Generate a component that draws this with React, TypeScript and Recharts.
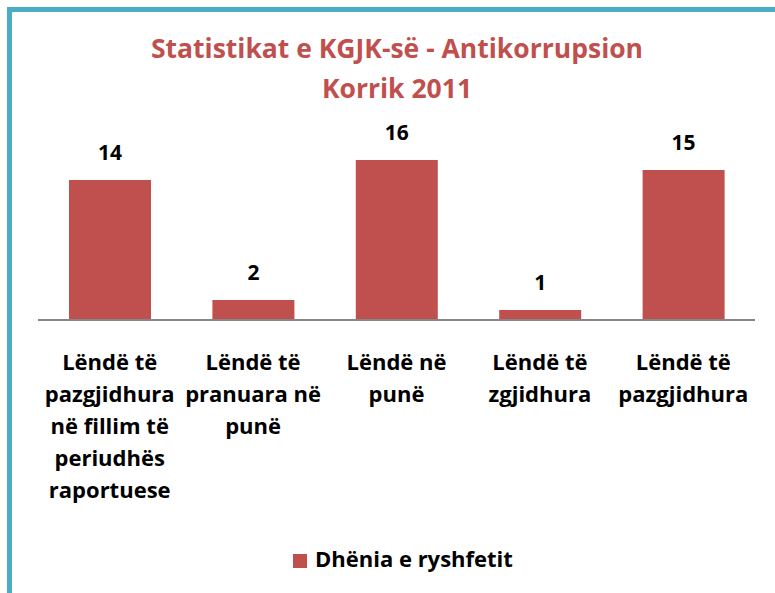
import { BarChart, Bar, XAxis, YAxis, LabelList } from "recharts";

const categories = [
  "Lëndë të\npazgjidhura\nnë fillim të\nperiudhës\nraportuese",
  "Lëndë të\npranuara në\npunë",
  "Lëndë në\npunë",
  "Lëndë të\nzgjidhura",
  "Lëndë të\npazgjidhura",
];
const values = [14, 2, 16, 1, 15];
const seriesName = "Dhënia e ryshfetit";
const titleLines = ["Statistikat e KGJK-së - Antikorrupsion", "Korrik 2011"];

const data = categories.map((c, i) => ({ name: c, value: values[i] }));

const FONT = "'Open Sans', Lato, sans-serif";
const RED = "#C0504D";

function CatTick(props: any) {
  const { x, y, payload } = props;
  const lines = String(payload.value).split("\n");
  return (
    <text x={x} y={y + 50} textAnchor="middle" fontFamily={FONT} fontWeight={700} fontSize={22} fill="#000">
      {lines.map((l, i) => (
        <tspan key={i} x={x} dy={i === 0 ? 0 : 32}>
          {l}
        </tspan>
      ))}
    </text>
  );
}

export default function App() {
  return (
    <div style={{ position: "fixed", left: 0, top: 0, width: 775, height: 593, overflow: "hidden", background: "#fff" }}>
      <div style={{ position: "absolute", left: 0, top: 0 }}>
        <BarChart width={775} height={593} data={data} margin={{ top: 140, right: 20, left: 38, bottom: 73 }}>
          <YAxis hide domain={[0, 18]} />
          <XAxis
            dataKey="name"
            interval={0}
            height={200}
            tickSize={0}
            tickMargin={0}
            tickLine={false}
            axisLine={{ stroke: "#868686", strokeWidth: 2 }}
            tick={<CatTick />}
          />
          <Bar dataKey="value" name={seriesName} fill={RED} barSize={82} isAnimationActive={false}>
            <LabelList
              dataKey="value"
              position="top"
              offset={20}
              fontFamily={FONT}
              fontWeight={700}
              fontSize={21}
              fill="#000"
            />
          </Bar>
        </BarChart>
      </div>
      <svg width={775} height={593} style={{ position: "absolute", left: 0, top: 0, pointerEvents: "none" }}>
        {/* frame: only left and top edges are visible in the original */}
        <path d="M9.5 600 L9.5 9.5 L800 9.5" fill="none" stroke="#4BACC6" strokeWidth={5} />
        {titleLines.map((t, i) => (
          <text
            key={i}
            x={397}
            y={58 + i * 40}
            textAnchor="middle"
            fontFamily={FONT}
            fontWeight={700}
            fontSize={26.5}
            fill={RED}
          >
            {t}
          </text>
        ))}
        <rect x={293} y={554} width={14} height={14} fill={RED} />
        <text x={315} y={567} fontFamily={FONT} fontWeight={700} fontSize={22} fill="#000">
          {seriesName}
        </text>
      </svg>
    </div>
  );
}
